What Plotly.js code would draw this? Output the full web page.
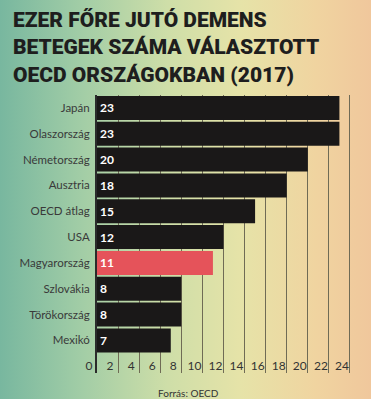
<!DOCTYPE html>
<html>
<head>
<meta charset="utf-8">
<script src="https://cdn.plot.ly/plotly-3.0.1.min.js"></script>
<style>
  html, body { margin: 0; padding: 0; }
  body {
    width: 371px; height: 399px; overflow: hidden;
    background: linear-gradient(to right, #78b79f 0%, #a2cda6 22%, #cedea8 45%, #e6e3a8 65%, #f0d4a0 85%, #f0c79c 100%);
  }
  #chart { width: 371px; height: 399px; }
</style>
</head>
<body>
<div id="chart"></div>
<script>
const countries = ["Japán", "Olaszország", "Németország", "Ausztria", "OECD átlag", "USA", "Magyarország", "Szlovákia", "Törökország", "Mexikó"];
const values = [23, 23, 20, 18, 15, 12, 11, 8, 8, 7];
const highlight = "Magyarország";
const xTicks = [0, 2, 4, 6, 8, 10, 12, 14, 16, 18, 20, 22, 24];
const titleText = "EZER FŐRE JUTÓ DEMENS<br>BETEGEK SZÁMA VÁLASZTOTT<br>OECD ORSZÁGOKBAN (2017)";
const sourceText = "Forrás: OECD";

const colors = countries.map(c => c === highlight ? "#e5535a" : "#1a1818");

const trace = {
  type: "bar",
  orientation: "h",
  x: values,
  y: countries,
  marker: { color: colors, line: { width: 0 } },
  text: values.map(String),
  textposition: "inside",
  insidetextanchor: "start",
  textfont: { family: "Lato", size: 12, color: "#ffffff", weight: 700 },
  hoverinfo: "none"
};

const layout = {
  width: 371,
  height: 399,
  margin: { l: 97, r: 20, t: 95, b: 26 },
  paper_bgcolor: "rgba(0,0,0,0)",
  plot_bgcolor: "rgba(0,0,0,0)",
  showlegend: false,
  bargap: 0.07,
  title: {
    text: titleText,
    x: 13 / 371,
    xanchor: "left",
    xref: "container",
    y: 1 - 27 / 399,
    yanchor: "top",
    yref: "container",
    font: { family: "Roboto", size: 21, color: "#1e1e1e", weight: 900 }
  },
  xaxis: {
    range: [0, 24.1],
    tickvals: xTicks,
    ticktext: xTicks.map(String),
    ticklabelposition: "outside",
    tickangle: 0,
    ticklabelstandoff: -16,
    ticklabelshift: -8,
    showgrid: true,
    gridcolor: "#6f6b55",
    gridwidth: 1,
    zeroline: false,
    showline: false,
    ticks: "",
    tickfont: { family: "Lato", size: 12, color: "#333333" }
  },
  yaxis: {
    type: "category",
    categoryorder: "array",
    categoryarray: countries,
    range: [10.26, -0.5],
    showgrid: false,
    zeroline: false,
    showline: true,
    linecolor: "#2b2b2b",
    linewidth: 2,
    ticks: "",
    ticklabelstandoff: 3,
    tickfont: { family: "Lato", size: 11.5, color: "#3a3a3a" }
  },
  annotations: [{
    text: sourceText,
    xref: "paper", yref: "paper",
    x: (188 - 97) / 254, y: -20 / 278,
    xanchor: "center", yanchor: "middle",
    showarrow: false,
    font: { family: "Lato", size: 10, color: "#333333" }
  }]
};

Plotly.newPlot("chart", [trace], layout, { displayModeBar: false, staticPlot: true });
</script>
</body>
</html>
